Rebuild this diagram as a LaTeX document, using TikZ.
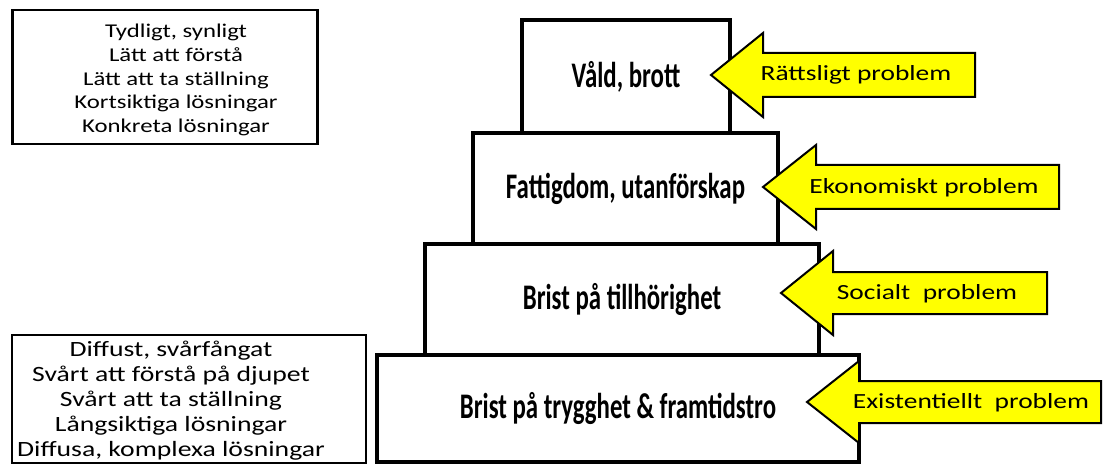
\documentclass[tikz,border=0pt]{standalone}
\usepackage{fontspec}
\setmainfont{Carlito}
\newfontfamily\levelfont{Carlito}[FakeStretch=0.69]
\newfontfamily\notefont{Carlito}[FakeStretch=1.27]
\usetikzlibrary{positioning}
\definecolor{arrowfill}{HTML}{FFFF00}
\definecolor{edge}     {HTML}{000000}

\tikzset{
  level/.style={draw=edge, line width=3.2pt, fill=white, inner sep=0pt,
    font=\levelfont\bfseries\fontsize{36}{40}\selectfont},
  notebox/.style={draw=edge, line width=2.4pt, inner sep=0pt},
  notetext/.style={align=center, inner sep=0pt},
  probarrow/.style={draw=edge, line width=2pt, fill=arrowfill, line join=miter},
  problabel/.style={font=\notefont\fontsize{21.6}{24}\selectfont}
}

\begin{document}
\begin{tikzpicture}[x=1pt, y=-1pt]
    % --- the four levels, bottom to top -------------------------------------
    \node[level, minimum width=482, minimum height=107] (trygghet) at (618, 408.5)
      {Brist på trygghet \& framtidstro};
    \node[level, minimum width=394, minimum height=111] (tillhor) at (622, 299.5)
      {Brist på tillhörighet};
    \node[level, minimum width=305, minimum height=111] (fattig) at (625.5, 188.5)
      {Fattigdom, utanförskap};
    \node[level, minimum width=208, minimum height=113] (vald) at (626, 76.5)
      {Våld, brott};

    % --- the two notes on the left -------------------------------------------
    \node[notebox, minimum width=305, minimum height=134] (synligt) at (165, 77) {};
    \node[notetext, font=\notefont\fontsize{19.5}{23.75}\selectfont]
      (synligttext) at (176, 80)
      {Tydligt, synligt\\ Lätt att förstå\\ Lätt att ta ställning\\
       Kortsiktiga lösningar\\ Konkreta lösningar};
    \node[notebox, minimum width=354, minimum height=128] (diffust) at (189, 399) {};
    \node[notetext, font=\notefont\fontsize{21.8}{25}\selectfont]
      (diffusttext) at (171, 401)
      {Diffust, svårfångat\\ Svårt att förstå på djupet\\ Svårt att ta ställning\\
       Långsiktiga lösningar\\ Diffusa, komplexa lösningar};

    % --- the block arrows, one for each level --------------------------------
    \draw[probarrow] (975, 53) -- (763, 53) -- (763, 33) -- (711, 75)
      -- (763, 117) -- (763, 97) -- (975, 97) -- cycle;
    \node[problabel] (rattslig) at (856, 75) {Rättsligt problem};

    \draw[probarrow] (1059, 165) -- (816, 165) -- (816, 145) -- (763, 187)
      -- (816, 229) -- (816, 209) -- (1059, 209) -- cycle;
    \node[problabel] (ekonomisk) at (924, 188) {Ekonomiskt problem};

    \draw[probarrow] (1047, 272) -- (833, 272) -- (833, 251) -- (781, 293)
      -- (833, 335) -- (833, 314) -- (1047, 314) -- cycle;
    \node[problabel] (social) at (927, 294) {Socialt\ \ problem};

    \draw[probarrow] (1101, 381) -- (859, 381) -- (859, 361) -- (807, 402)
      -- (859, 443) -- (859, 423) -- (1101, 423) -- cycle;
    \node[problabel] (existentiell) at (971, 403) {Existentiellt\ \ problem};

    \useasboundingbox (0, 0) rectangle (1103, 465);
\end{tikzpicture}
\end{document}
